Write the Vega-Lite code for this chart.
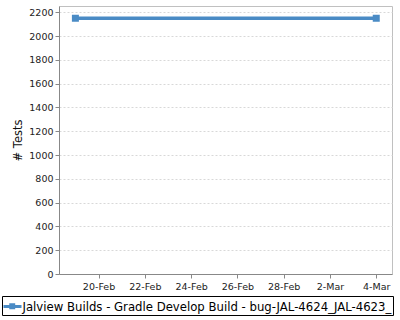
{
  "$schema": "https://vega.github.io/schema/vega-lite/v6.json",
  "width": 333,
  "height": 268,
  "autosize": {"type": "none"},
  "padding": {"left": 59, "top": 6, "right": 8, "bottom": 46},
  "background": "white",
  "config": {
    "font": "DejaVu Sans",
    "view": {"stroke": "#c0c0c0", "strokeWidth": 1}
  },
  "data": {
    "values": [
      {"date": "2025-02-19T00:00:00Z", "tests": 2150, "series": "Jalview Builds - Gradle Develop Build - bug-JAL-4624_JAL-4623_"},
      {"date": "2025-03-04T00:00:00Z", "tests": 2150, "series": "Jalview Builds - Gradle Develop Build - bug-JAL-4624_JAL-4623_"}
    ]
  },
  "mark": {
    "type": "line",
    "strokeWidth": 3.5,
    "point": {"shape": "square", "filled": true, "size": 49, "opacity": 1}
  },
  "encoding": {
    "x": {
      "field": "date",
      "type": "temporal",
      "scale": {
        "type": "utc",
        "domain": [
          {"year": 2025, "month": 2, "date": 18, "hours": 7, "utc": true},
          {"year": 2025, "month": 3, "date": 4, "hours": 16, "minutes": 20, "utc": true}
        ]
      },
      "axis": {
        "title": null,
        "grid": false,
        "values": [
          {"year": 2025, "month": 2, "date": 20, "utc": true},
          {"year": 2025, "month": 2, "date": 22, "utc": true},
          {"year": 2025, "month": 2, "date": 24, "utc": true},
          {"year": 2025, "month": 2, "date": 26, "utc": true},
          {"year": 2025, "month": 2, "date": 28, "utc": true},
          {"year": 2025, "month": 3, "date": 2, "utc": true},
          {"year": 2025, "month": 3, "date": 4, "utc": true}
        ],
        "labelExpr": "utcFormat(datum.value, '%-d-%b')",
        "labelFontSize": 9.5,
        "labelColor": "#222",
        "labelPadding": 3,
        "labelFlush": false,
        "labelOverlap": false,
        "domainColor": "#888",
        "tickColor": "#888",
        "tickSize": 4
      }
    },
    "y": {
      "field": "tests",
      "type": "quantitative",
      "scale": {"domain": [0, 2253], "nice": false, "zero": true},
      "axis": {
        "title": "# Tests",
        "titleFontSize": 11.5,
        "titleFontWeight": "normal",
        "titleColor": "#111",
        "titlePadding": 5,
        "format": "d",
        "values": [0, 200, 400, 600, 800, 1000, 1200, 1400, 1600, 1800, 2000, 2200],
        "labelFontSize": 9.5,
        "labelColor": "#222",
        "labelPadding": 2,
        "grid": true,
        "gridColor": "#d8d8d8",
        "gridDash": [2, 2],
        "domainColor": "#888",
        "tickColor": "#888",
        "tickSize": 4
      }
    },
    "color": {
      "field": "series",
      "type": "nominal",
      "scale": {"range": ["#4a8bc5"]},
      "legend": {
        "title": null,
        "orient": "none",
        "legendX": -57,
        "legendY": 290,
        "strokeColor": "#000",
        "padding": 1.5,
        "labelFontSize": 11.7,
        "labelColor": "#000",
        "labelOffset": 1,
        "labelLimit": 1000,
        "symbolType": "M-1,-0.17H1V0.17H-1Z M-0.36,-0.36H0.3V0.3H-0.36Z",
        "symbolSize": 324,
        "symbolFillColor": "#4a8bc5",
        "symbolStrokeWidth": 0
      }
    }
  }
}
